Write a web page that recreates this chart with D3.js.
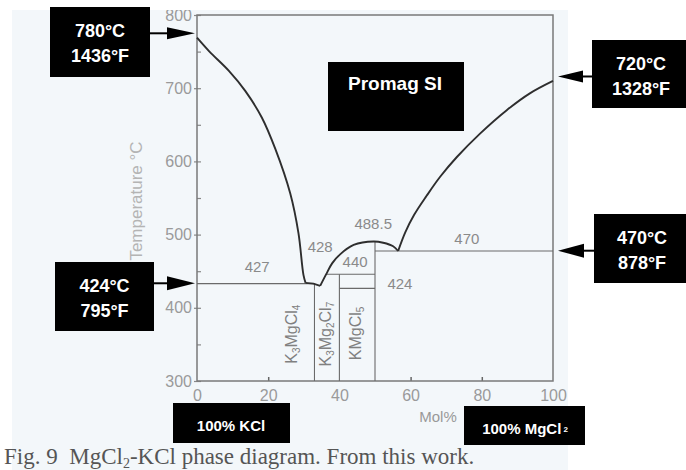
<!DOCTYPE html>
<html><head><meta charset="utf-8">
<script src="https://cdn.jsdelivr.net/npm/d3@7"></script>
<style>
html,body{margin:0;padding:0;background:#fff;}
svg{display:block;}
</style></head>
<body>
<svg id="chart" width="686" height="470"></svg>
<script>
// ---------- data ----------
const xTicks = [0, 20, 40, 60, 80, 100];
const yTicks = [300, 400, 500, 600, 700, 800];
const yMinorTicks = [350, 450, 550, 650, 750];
const xInnerTicks = [20, 60, 80];

// liquidus curves [mol% MgCl2, temperature °C]
const leftLiquidus = [[0,769],[3.5,750],[8.9,724],[13.6,696],[18.2,660],[22,617],[26.2,556],[28.5,502],[29.9,445],[30.5,434]];
const eutecticFlat = [[30.5,434],[32.7,433],[34.6,430]];
const domeLiquidus = [[34.6,430],[36.3,446],[38,461],[40.2,473],[44,485.8],[49.6,490.5],[52.3,488.8],[55.1,484],[56.5,477.6]];
const rightLiquidus = [[56.5,477.6],[58.5,503],[61,527],[64.5,553],[68.3,579],[73,606],[79.5,638],[87,670],[93.5,693],[100,710]];

// invariant lines [x1, t1, x2, t2]
const phaseLines = [
  [0, 433, 33, 433],
  [33, 433, 33, 300],
  [36.3, 445.8, 50, 445.8],
  [40, 426.6, 50, 426.6],
  [40, 445.8, 40, 300],
  [50, 490.5, 50, 300],
  [50, 477.6, 100, 477.6]
];

// number labels [text, mol%, temperature]
const valueLabels = [["427",16.9,454],["428",34.6,481.7],["488.5",49.5,513],["440",44.4,461],["424",57,431],["470",75.8,492.6]];
// compound labels [parts..., mol%, temperature]
const compoundLabels = [
  [["K",""],["3","sub"],["MgCl",""],["4","sub"], 27, 364],
  [["K",""],["3","sub"],["Mg",""],["2","sub"],["Cl",""],["7","sub"], 36.6, 364],
  [["KMgCl",""],["5","sub"], 45, 365]
];

// callouts
const callouts = [
  {lines:["780°C","1436°F"], temp:775},
  {lines:["424°C","795°F"], temp:433.5},
  {lines:["720°C","1328°F"], temp:716},
  {lines:["470°C","878°F"], temp:478}
];

// ---------- drawing ----------
const svg = d3.select("#chart");
const x = d3.scaleLinear().domain([0,100]).range([197,553]);
const y = d3.scaleLinear().domain([300,800]).range([381,15]);

// scanned page background
svg.append("rect").attr("x",12).attr("y",10).attr("width",556).attr("height",460).attr("fill","#f3f7fa");

const tickColor = "#9a9a9a";
// y axis labels + outward ticks
const yAx = svg.append("g").attr("transform","translate(197,0)")
  .call(d3.axisLeft(y).tickValues(yTicks).tickSize(3).tickPadding(2));
yAx.select(".domain").remove();
yAx.selectAll("line").attr("stroke","#888").attr("stroke-width",1.2);
yAx.selectAll("text").attr("fill",tickColor).attr("font-family","Liberation Sans, Arial, sans-serif").attr("font-size",16);
// inward ticks (major + minor)
const yAxIn = svg.append("g").attr("transform","translate(197,0)")
  .call(d3.axisLeft(y).tickValues(yTicks.concat(yMinorTicks)).tickSize(-4).tickFormat(""));
yAxIn.select(".domain").remove();
yAxIn.selectAll("line").attr("stroke","#888").attr("stroke-width",1.2);

// x axis
const xAx = svg.append("g").attr("transform","translate(0,381)")
  .call(d3.axisBottom(x).tickValues(xTicks).tickSize(0).tickPadding(9));
xAx.select(".domain").remove();
xAx.selectAll("text").attr("fill",tickColor).attr("font-family","Liberation Sans, Arial, sans-serif").attr("font-size",16);
const xAxIn = svg.append("g").attr("transform","translate(0,381)")
  .call(d3.axisBottom(x).tickValues(xInnerTicks).tickSize(-4).tickFormat(""));
xAxIn.select(".domain").remove();
xAxIn.selectAll("line").attr("stroke","#666").attr("stroke-width",1.5);

// frame
svg.append("path")
  .attr("d", `M${x(0)},${y(800)} H${x(100)} V${y(300)} H${x(0)} Z`)
  .attr("fill","none").attr("stroke","#7a7a7a").attr("stroke-width",1.5);

// axis titles
svg.append("text").attr("transform",`translate(138,201) rotate(-90)`)
  .attr("text-anchor","middle").attr("dominant-baseline","middle")
  .attr("fill","#b4b4b4").attr("font-family","Liberation Sans, Arial, sans-serif").attr("font-size",17)
  .text("Temperature °C");
svg.append("text").attr("x",438).attr("y",418).attr("text-anchor","middle").attr("dominant-baseline","middle")
  .attr("fill","#999").attr("font-family","Liberation Sans, Arial, sans-serif").attr("font-size",15)
  .text("Mol%");

// phase lines
svg.append("g").selectAll("line").data(phaseLines).join("line")
  .attr("x1",d=>x(d[0])).attr("y1",d=>y(d[1])).attr("x2",d=>x(d[2])).attr("y2",d=>y(d[3]))
  .attr("stroke","#6a6a6a").attr("stroke-width",1.1);

// liquidus
const smooth = d3.line().x(d=>x(d[0])).y(d=>y(d[1])).curve(d3.curveCatmullRom.alpha(0.5));
const straight = d3.line().x(d=>x(d[0])).y(d=>y(d[1]));
[leftLiquidus, domeLiquidus, rightLiquidus].forEach(c=>{
  svg.append("path").attr("d",smooth(c)).attr("fill","none").attr("stroke","#2e2e2e").attr("stroke-width",1.9);
});
svg.append("path").attr("d",straight(eutecticFlat)).attr("fill","none").attr("stroke","#2e2e2e").attr("stroke-width",1.9);

// value labels
svg.append("g").selectAll("text").data(valueLabels).join("text")
  .attr("x",d=>x(d[1])).attr("y",d=>y(d[2])).attr("text-anchor","middle").attr("dominant-baseline","middle")
  .attr("fill","#8a8a8a").attr("font-family","Liberation Sans, Arial, sans-serif").attr("font-size",15)
  .text(d=>d[0]);

// compound labels
compoundLabels.forEach(c=>{
  const t = c[c.length-1], m = c[c.length-2];
  const parts = c.slice(0,c.length-2);
  const txt = svg.append("text")
    .attr("transform",`translate(${x(m)},${y(t)}) rotate(-90)`)
    .attr("text-anchor","middle").attr("dominant-baseline","middle")
    .attr("fill","#808080").attr("font-family","Liberation Sans, Arial, sans-serif").attr("font-size",16);
  parts.forEach(p=>{
    const ts = txt.append("tspan").text(p[0]);
    if(p[1]==="sub") ts.attr("font-size",10).attr("baseline-shift","-4");
  });
});

// white strip above the scanned page
svg.append("rect").attr("x",0).attr("y",0).attr("width",686).attr("height",10).attr("fill","#fff");

// caption
const cap = svg.append("text").attr("x",4).attr("y",464)
  .attr("fill","#555").attr("font-family","Liberation Serif, Times New Roman, serif").attr("font-size",23);
cap.append("tspan").text("Fig. 9  MgCl").attr("xml:space","preserve");
cap.append("tspan").text("2").attr("font-size",14).attr("baseline-shift","-4");
cap.append("tspan").text("-KCl phase diagram. From this work.");

// callout boxes
const boxes = [
  {x:50,y:7,w:100,h:70, side:"left", tipX:195, baseX:167, half:6},
  {x:55,y:262,w:99,h:69, side:"left", tipX:195, baseX:167, half:7},
  {x:592,y:40,w:94,h:68, side:"right", tipX:558, baseX:583, half:6},
  {x:594,y:214,w:92,h:69, side:"right", tipX:558, baseX:584, half:7}
];
callouts.forEach((c,i)=>{
  const b = boxes[i];
  const g = svg.append("g");
  g.append("rect").attr("x",b.x).attr("y",b.y).attr("width",b.w).attr("height",b.h).attr("fill","#000");
  const cx = b.x + b.w/2 + (b.side==="right"? 2 : 0);
  c.lines.forEach((l,j)=>{
    g.append("text").attr("x",cx).attr("y",b.y + 25 + j*25).attr("text-anchor","middle").attr("dominant-baseline","middle")
      .attr("fill","#fff").attr("font-family","Liberation Sans, Arial, sans-serif").attr("font-weight","bold").attr("font-size",18)
      .text(l);
  });
  const ay = y(c.temp);
  const edge = b.side==="left" ? b.x+b.w : b.x;
  g.append("line").attr("x1",edge).attr("x2",b.baseX).attr("y1",ay).attr("y2",ay).attr("stroke","#000").attr("stroke-width",2);
  g.append("path").attr("d",`M${b.baseX},${ay-b.half} L${b.tipX},${ay} L${b.baseX},${ay+b.half} Z`).attr("fill","#000");
});

// Promag SI box
svg.append("rect").attr("x",328).attr("y",62).attr("width",136).attr("height",69).attr("fill","#000");
svg.append("text").attr("x",395).attr("y",85).attr("text-anchor","middle").attr("dominant-baseline","middle")
  .attr("fill","#fff").attr("font-family","Liberation Sans, Arial, sans-serif").attr("font-weight","bold").attr("font-size",19)
  .text("Promag SI");

// composition boxes
svg.append("rect").attr("x",173).attr("y",403).attr("width",117).attr("height",40).attr("fill","#000");
svg.append("text").attr("x",231).attr("y",427).attr("text-anchor","middle").attr("dominant-baseline","middle")
  .attr("fill","#fff").attr("font-family","Liberation Sans, Arial, sans-serif").attr("font-weight","bold").attr("font-size",15)
  .text("100% KCl");
svg.append("rect").attr("x",464).attr("y",406).attr("width",121).attr("height",39).attr("fill","#000");
const mg = svg.append("text").attr("x",525).attr("y",430).attr("text-anchor","middle").attr("dominant-baseline","middle")
  .attr("fill","#fff").attr("font-family","Liberation Sans, Arial, sans-serif").attr("font-weight","bold").attr("font-size",15);
mg.append("tspan").text("100% MgCl");
mg.append("tspan").text("2").attr("font-size",8).attr("dx",2);
</script>
</body></html>
